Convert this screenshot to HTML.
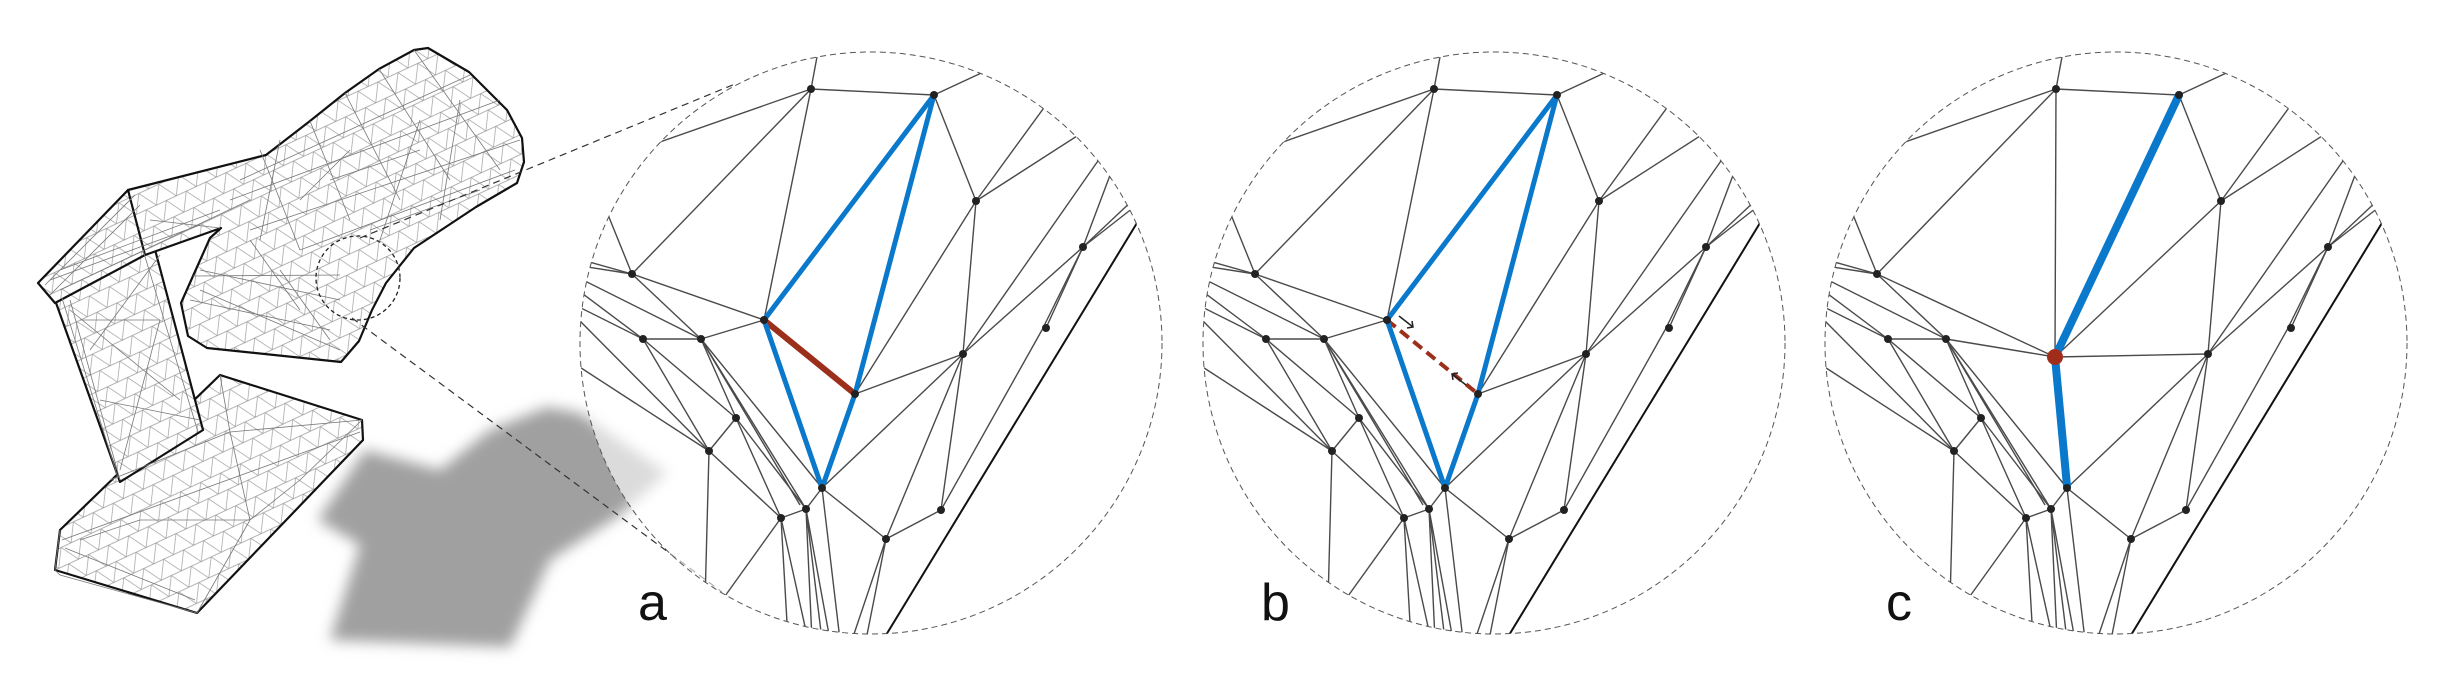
<!DOCTYPE html>
<html><head><meta charset="utf-8"><style>
html,body{margin:0;padding:0;background:#fff;}
svg{display:block}
</style></head><body>
<svg width="2450" height="685" viewBox="0 0 2450 685" xmlns="http://www.w3.org/2000/svg">
<defs>
<filter id="blur" x="-20%" y="-20%" width="140%" height="140%"><feGaussianBlur stdDeviation="7"/></filter>
<clipPath id="cc"><circle cx="871" cy="343" r="291"/></clipPath>
<pattern id="mesh" width="22" height="18" patternUnits="userSpaceOnUse" patternTransform="rotate(-25)">
<rect width="22" height="18" fill="#fff"/>
<path d="M0,0 L22,0 M0,0 L11,18 M22,0 L11,18 M0,18 L22,18" stroke="#9a9a9a" stroke-width="0.7" fill="none"/>
</pattern>
<g id="shared" stroke="#4a4a4a" stroke-width="1.4" fill="none">
<line x1="811" y1="89" x2="822" y2="30"/>
<line x1="811" y1="89" x2="934" y2="95"/>
<line x1="934" y1="95" x2="1005" y2="62"/>
<line x1="811" y1="89" x2="600" y2="163"/>
<line x1="811" y1="89" x2="632" y2="274"/>
<line x1="934" y1="95" x2="976" y2="201"/>
<line x1="976" y1="201" x2="1070" y2="72"/>
<line x1="976" y1="201" x2="1105" y2="118"/>
<line x1="976" y1="201" x2="963" y2="354"/>
<line x1="632" y1="274" x2="600" y2="195"/>
<line x1="632" y1="274" x2="575" y2="258"/>
<line x1="632" y1="274" x2="575" y2="265"/>
<line x1="632" y1="274" x2="701" y2="339"/>
<line x1="575" y1="276" x2="701" y2="339"/>
<line x1="575" y1="288" x2="643" y2="339"/>
<line x1="575" y1="305" x2="643" y2="339"/>
<line x1="575" y1="316" x2="709" y2="451"/>
<line x1="575" y1="364" x2="709" y2="451"/>
<line x1="643" y1="339" x2="701" y2="339"/>
<line x1="643" y1="339" x2="709" y2="451"/>
<line x1="643" y1="339" x2="736" y2="418"/>
<line x1="701" y1="339" x2="736" y2="418"/>
<line x1="701" y1="339" x2="806" y2="509"/>
<line x1="701" y1="339" x2="800" y2="505"/>
<line x1="701" y1="339" x2="822" y2="488"/>
<line x1="736" y1="418" x2="709" y2="451"/>
<line x1="736" y1="418" x2="806" y2="509"/>
<line x1="736" y1="418" x2="781" y2="518"/>
<line x1="709" y1="451" x2="781" y2="518"/>
<line x1="709" y1="451" x2="704" y2="640"/>
<line x1="781" y1="518" x2="715" y2="610"/>
<line x1="781" y1="518" x2="788" y2="640"/>
<line x1="781" y1="518" x2="806" y2="509"/>
<line x1="781" y1="518" x2="808" y2="640"/>
<line x1="806" y1="509" x2="812" y2="640"/>
<line x1="806" y1="509" x2="822" y2="640"/>
<line x1="806" y1="509" x2="830" y2="640"/>
<line x1="806" y1="509" x2="822" y2="488"/>
<line x1="822" y1="488" x2="840" y2="640"/>
<line x1="822" y1="488" x2="886" y2="539"/>
<line x1="822" y1="488" x2="963" y2="354"/>
<line x1="886" y1="539" x2="941" y2="510"/>
<line x1="886" y1="539" x2="852" y2="640"/>
<line x1="886" y1="539" x2="866" y2="640"/>
<line x1="886" y1="539" x2="963" y2="354"/>
<line x1="963" y1="354" x2="941" y2="510"/>
<line x1="963" y1="354" x2="1083" y2="247"/>
<line x1="963" y1="354" x2="1100" y2="158"/>
<line x1="1083" y1="247" x2="1112" y2="170"/>
<line x1="1083" y1="247" x2="1135" y2="198"/>
<line x1="1083" y1="247" x2="1138" y2="204"/>
<line x1="1083" y1="247" x2="1046" y2="328"/>
<line x1="1083" y1="247" x2="1042" y2="330"/>
<line x1="1042" y1="330" x2="941" y2="510"/>
<line x1="1140" y1="218" x2="883" y2="640" stroke="#111" stroke-width="2"/>
</g>
<g id="sdots" fill="#222">
<circle cx="811" cy="89" r="4"/><circle cx="934" cy="95" r="4"/><circle cx="976" cy="201" r="4"/>
<circle cx="632" cy="274" r="4"/><circle cx="643" cy="339" r="4"/><circle cx="701" cy="339" r="4"/>
<circle cx="1083" cy="247" r="4"/><circle cx="1046" cy="328" r="4"/><circle cx="963" cy="354" r="4"/>
<circle cx="736" cy="418" r="4"/><circle cx="709" cy="451" r="4"/><circle cx="822" cy="488" r="4"/>
<circle cx="806" cy="509" r="4"/><circle cx="781" cy="518" r="4"/><circle cx="886" cy="539" r="4"/>
<circle cx="941" cy="510" r="4"/>
</g>
<g id="n5n11" stroke="#4a4a4a" stroke-width="1.4">
<line x1="811" y1="89" x2="764" y2="320"/>
<line x1="632" y1="274" x2="764" y2="320"/>
<line x1="701" y1="339" x2="764" y2="320"/>
<line x1="976" y1="201" x2="855" y2="394"/>
<line x1="963" y1="354" x2="855" y2="394"/>
</g>
</defs>

<!-- shadow -->
<polygon points="365,450 440,470 490,430 547,407 580,413 667,473 617,517 550,560 510,647 330,640 360,545 318,520" fill="#a0a0a0" filter="url(#blur)"/>

<!-- lamp -->
<g stroke="#111" stroke-width="2.2" fill="url(#mesh)" stroke-linejoin="round">
<polygon points="60,530 220,375 362,420 363,440 197,613 55,570"/>
<polygon points="55,300 141,197 203,430 120,482"/>
<polygon points="38,283 128,190 141,197 145,255 55,303"/>
<polygon points="128,190 266,155 310,121 345,93 379,69 414,50 428,48 469,72 507,110 522,138 524,162 517,183 476,207 414,248 386,283 372,310 359,341 341,362 207,348 188,336 181,303 193,276 210,238 221,228 145,255"/>
</g>
<g stroke="#777" stroke-width="0.8" fill="none">
<polyline points="60,530 55,570 60,575 197,613"/>
<line x1="62" y1="540" x2="360" y2="432"/><line x1="65" y1="548" x2="195" y2="600"/>
<line x1="110" y1="480" x2="230" y2="432"/><line x1="230" y1="432" x2="362" y2="420"/><line x1="230" y1="432" x2="250" y2="520"/>
<line x1="220" y1="375" x2="230" y2="432"/><line x1="250" y1="520" x2="300" y2="480"/><line x1="250" y1="520" x2="140" y2="520"/>
<line x1="250" y1="520" x2="197" y2="613"/><line x1="140" y1="520" x2="80" y2="540"/><line x1="300" y1="480" x2="362" y2="420"/>
<line x1="70" y1="310" x2="180" y2="400"/><line x1="90" y1="350" x2="160" y2="255"/><line x1="100" y1="400" x2="200" y2="420"/>
<line x1="80" y1="320" x2="160" y2="320"/><line x1="160" y1="320" x2="120" y2="470"/>
<line x1="150" y1="220" x2="220" y2="228"/><line x1="60" y1="270" x2="220" y2="210"/><line x1="50" y1="280" x2="200" y2="225"/>
<line x1="200" y1="290" x2="340" y2="350"/><line x1="190" y1="300" x2="330" y2="330"/><line x1="200" y1="270" x2="340" y2="300"/>
<line x1="193" y1="276" x2="340" y2="275"/><line x1="250" y1="240" x2="300" y2="310"/><line x1="280" y1="270" x2="330" y2="340"/>
<line x1="260" y1="150" x2="300" y2="250"/><line x1="310" y1="121" x2="350" y2="220"/><line x1="345" y1="93" x2="400" y2="200"/>
<line x1="379" y1="69" x2="450" y2="180"/><line x1="414" y1="50" x2="500" y2="170"/><line x1="230" y1="200" x2="500" y2="100"/>
<line x1="240" y1="180" x2="470" y2="75"/><line x1="250" y1="230" x2="520" y2="140"/><line x1="300" y1="250" x2="515" y2="170"/>
<line x1="280" y1="140" x2="260" y2="240"/><line x1="350" y1="150" x2="300" y2="200"/><line x1="420" y1="120" x2="380" y2="240"/>
<line x1="460" y1="100" x2="440" y2="220"/><line x1="330" y1="180" x2="420" y2="150"/><line x1="370" y1="230" x2="480" y2="190"/>
<line x1="45" y1="285" x2="135" y2="195"/><line x1="50" y1="295" x2="140" y2="205"/><line x1="60" y1="290" x2="250" y2="200"/>
<line x1="70" y1="300" x2="120" y2="480"/><line x1="62" y1="298" x2="118" y2="478"/><line x1="143" y1="250" x2="198" y2="432"/>
</g>
<!-- small circle -->
<circle cx="358" cy="278" r="42" fill="none" stroke="#222" stroke-width="1.3" stroke-dasharray="4,3"/>
<!-- projection lines -->
<g stroke="#333" stroke-width="1.2" stroke-dasharray="7,5">
<line x1="360" y1="238" x2="735" y2="84"/>
<line x1="352" y1="318" x2="722" y2="592"/>
</g>

<!-- circle a -->
<circle cx="871" cy="343" r="291" fill="#fff" fill-opacity="0.62"/>
<g clip-path="url(#cc)">
<use href="#shared"/>
<use href="#n5n11"/>
<g stroke-linecap="round">
<line x1="764" y1="320" x2="855" y2="394" stroke="#9c2f1b" stroke-width="6"/>
<g stroke="#0a79cc" stroke-width="5">
<line x1="934" y1="95" x2="764" y2="320"/><line x1="934" y1="95" x2="855" y2="394"/>
<line x1="764" y1="320" x2="822" y2="488"/><line x1="855" y1="394" x2="822" y2="488"/>
</g></g>
<use href="#sdots"/>
<circle cx="764" cy="320" r="4" fill="#222"/><circle cx="855" cy="394" r="4" fill="#222"/>
</g>
<circle cx="871" cy="343" r="291" fill="none" stroke="#555" stroke-width="1" stroke-dasharray="6,4"/>

<!-- circle b -->
<g transform="translate(623,0)">
<circle cx="871" cy="343" r="291" fill="#fff"/>
<g clip-path="url(#cc)">
<use href="#shared"/>
<use href="#n5n11"/>
<line x1="764" y1="320" x2="855" y2="394" stroke="#9c2f1b" stroke-width="4" stroke-dasharray="11,6"/>
<g stroke="#0a79cc" stroke-width="5" stroke-linecap="round">
<line x1="934" y1="95" x2="764" y2="320"/><line x1="934" y1="95" x2="855" y2="394"/>
<line x1="764" y1="320" x2="822" y2="488"/><line x1="855" y1="394" x2="822" y2="488"/>
</g>
<use href="#sdots"/>
<circle cx="764" cy="320" r="4" fill="#222"/><circle cx="855" cy="394" r="4" fill="#222"/>
<g stroke="#222" stroke-width="1.5" fill="none">
<line x1="776" y1="316" x2="790" y2="327"/><polyline points="784,328 790,327 789,321"/>
<line x1="843" y1="385" x2="829" y2="374"/><polyline points="835,373 829,374 830,380"/>
</g>
</g>
<circle cx="871" cy="343" r="291" fill="none" stroke="#555" stroke-width="1" stroke-dasharray="6,4"/>
</g>

<!-- circle c -->
<g transform="translate(1245,0)">
<circle cx="871" cy="343" r="291" fill="#fff"/>
<g clip-path="url(#cc)">
<use href="#shared"/>
<g stroke="#4a4a4a" stroke-width="1.4">
<line x1="811" y1="89" x2="810" y2="357"/><line x1="632" y1="274" x2="810" y2="357"/>
<line x1="701" y1="339" x2="810" y2="357"/><line x1="976" y1="201" x2="810" y2="357"/>
<line x1="963" y1="354" x2="810" y2="357"/>
</g>
<g stroke="#0a79cc" stroke-width="8" stroke-linecap="round">
<line x1="934" y1="95" x2="810" y2="357"/><line x1="810" y1="357" x2="822" y2="486"/>
</g>
<use href="#sdots"/>
<circle cx="810" cy="357" r="8" fill="#a02d1a"/>
</g>
<circle cx="871" cy="343" r="291" fill="none" stroke="#555" stroke-width="1" stroke-dasharray="6,4"/>
</g>

<g font-family="'Liberation Sans', sans-serif" font-size="52" fill="#111">
<text x="638" y="620">a</text>
<text x="1261" y="620">b</text>
<text x="1886" y="620">c</text>
</g>
</svg>
</body></html>
